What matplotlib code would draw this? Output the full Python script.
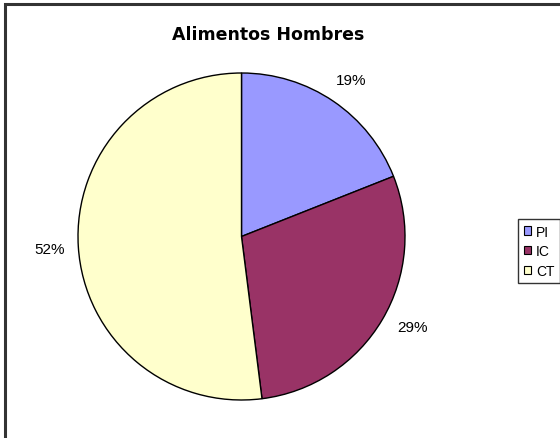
import matplotlib
matplotlib.use("Agg")
import matplotlib.pyplot as plt
from matplotlib.patches import Rectangle, Patch

categories = ["PI", "IC", "CT"]
values = [19, 29, 52]
colors = ["#9999FF", "#993366", "#FFFFCC"]
title = "Alimentos Hombres"

plt.rcParams['font.family'] = ['Liberation Sans', 'DejaVu Sans']

W, H = 560, 439
fig = plt.figure(figsize=(W / 100, H / 100), dpi=100)

# outer chart border (clipped on right/bottom like the reference)
fig.patches.append(Rectangle((5 / W, -0.1), 1.2, 1 - 5 / H + 0.1, transform=fig.transFigure,
                             fill=False, edgecolor="#333333", linewidth=2.2))

cx, cy, r = 241.5, 237.5, 163.5
ax = fig.add_axes([(cx - r) / W, 1 - (cy + r) / H, 2 * r / W, 2 * r / H])
wedges, texts, autotexts = ax.pie(values, colors=colors, startangle=90, counterclock=False,
                                  autopct=lambda p: f"{p:.0f}%", pctdistance=1.18,
                                  wedgeprops=dict(edgecolor="black", linewidth=1.0),
                                  textprops=dict(fontsize=11, color="black"))
label_pos = [(0.673, 0.960), (1.043, -0.554), (-1.171, -0.076)]
for t, p in zip(autotexts, label_pos):
    t.set_position(p)
    t.set_ha("center")
    t.set_va("center")
ax.set_xlim(-1, 1)
ax.set_ylim(-1, 1)
ax.set_aspect("equal")
ax.axis("off")

fig.text(268 / W, 1 - 34.5 / H, title, ha="center", va="center", fontsize=12.5,
         fontweight="bold", family=["DejaVu Sans"])

handles = [Patch(facecolor=c, edgecolor="black", linewidth=0.8) for c in colors]
leg = fig.legend(handles, categories, loc="upper left", bbox_to_anchor=(518 / W, 1 - 220 / H),
                 borderaxespad=0, frameon=True, fancybox=False, fontsize=10,
                 handlelength=0.55, handleheight=0.55, handletextpad=0.35,
                 labelspacing=0.4, borderpad=0.4)
leg.get_frame().set_edgecolor("black")
leg.get_frame().set_linewidth(1.0)

fig.savefig("out.png", dpi=100)
